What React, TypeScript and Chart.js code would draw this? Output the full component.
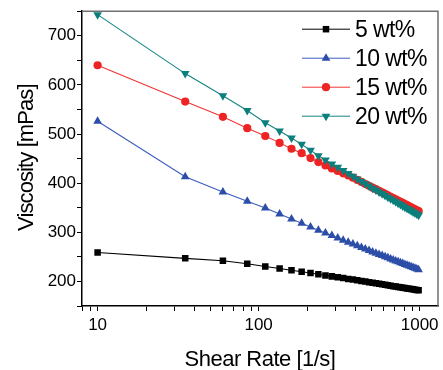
import React, { useEffect, useRef } from 'react';
import { Chart, registerables } from 'chart.js';

Chart.register(...registerables);

const shearRate = [10, 35, 60, 85, 110, 135, 160, 185, 210, 235, 260, 285, 310, 335, 360, 385, 410, 435, 460, 485, 510, 535, 560, 585, 610, 635, 660, 685, 710, 735, 760, 785, 810, 835, 860, 885, 910, 935, 960, 985];

const visc5 = [259, 247, 242, 236, 230.5, 226.3, 222.7, 219.7, 217, 214.5, 212.3, 210.3, 208.4, 206.8, 205.2, 203.7, 202.2, 200.9, 199.7, 198.5, 197.3, 196.2, 195.2, 194.2, 193.2, 192.3, 191.4, 190.4, 189.6, 188.8, 188, 187.3, 186.6, 185.8, 185.2, 184.5, 183.9, 183.2, 182.6, 182];

const visc10 = [526, 413, 382, 363, 349.5, 337.2, 327, 318.5, 311, 304.4, 298.5, 293.3, 288.4, 284, 279.9, 276.1, 272.5, 269.2, 265.9, 262.9, 260.1, 257.5, 254.9, 252.6, 250.3, 248, 245.8, 243.7, 241.8, 239.9, 238, 236.3, 234.6, 232.8, 231.4, 229.8, 228.2, 226.7, 225.3, 224];

const visc15 = [640, 566, 535, 512, 496, 482, 470, 461, 451, 443, 436, 430, 425, 420, 415.8, 411.1, 406.6, 402.5, 398.3, 394.6, 390.9, 387.7, 384.4, 381.2, 378.2, 375.2, 372.4, 369.6, 367.1, 364.7, 362.1, 359.7, 357.5, 355.2, 353, 350.9, 348.8, 346.8, 344.9, 343];

const visc20 = [743, 623, 578, 548, 523, 506, 492, 479, 467, 456, 447, 439, 432.5, 425.8, 419.7, 414, 408.6, 403.6, 398.7, 394.2, 389.9, 386, 382.2, 378.4, 375, 371.4, 368.2, 365.1, 362.2, 359.3, 356.4, 353.7, 351.2, 348.5, 346.2, 343.8, 341.5, 339.1, 337, 334.9];

const seriesLabels = ['5 wt%', '10 wt%', '15 wt%', '20 wt%'];
const xTickValues = [8, 9, 10, 20, 30, 40, 50, 60, 70, 80, 90, 100, 200, 300, 400, 500, 600, 700, 800, 900, 1000];
const xTickLabels = [10, 100, 1000];
const yTickValues = [150, 200, 250, 300, 350, 400, 450, 500, 550, 600, 650, 700, 750];
const yTickLabels = [200, 300, 400, 500, 600, 700];

const FONT = '"Liberation Sans", Arial, Helvetica, sans-serif';
const markerColors = ['#000000', '#2d4ea8', '#ee2424', '#0a7f7b'];
const lineColors = ['#000000', '#3a5cc2', '#f03434', '#128682'];
const pointStyles = ['rect', 'triangle', 'circle', 'triangle'];
const rotations = [0, 0, 0, 180];
const radii = [4.6, 5.0, 4.1, 5.0];

function drawMarker(ctx: CanvasRenderingContext2D, i: number, x: number, y: number) {
  const r = radii[i];
  ctx.fillStyle = markerColors[i];
  ctx.beginPath();
  if (pointStyles[i] === 'rect') {
    const s = r * Math.SQRT1_2;
    ctx.rect(x - s, y - s, 2 * s, 2 * s);
  } else if (pointStyles[i] === 'circle') {
    ctx.arc(x, y, r, 0, Math.PI * 2);
  } else {
    const dir = rotations[i] === 180 ? -1 : 1;
    ctx.moveTo(x, y - dir * r);
    ctx.lineTo(x + r * 0.866, y + dir * r * 0.5);
    ctx.lineTo(x - r * 0.866, y + dir * r * 0.5);
    ctx.closePath();
  }
  ctx.fill();
}

const overlay = {
  id: 'overlay',
  afterDraw(chart: any) {
    const { ctx, chartArea: a } = chart;
    ctx.save();
    ctx.strokeStyle = '#707070';
    ctx.lineWidth = 1.5;
    ctx.beginPath();
    ctx.moveTo(a.left, a.top);
    ctx.lineTo(a.right, a.top);
    ctx.lineTo(a.right, a.bottom);
    ctx.stroke();

    ctx.fillStyle = '#000';
    ctx.font = `22px ${FONT}`;
    (ctx as any).letterSpacing = '-0.5px';
    ctx.textAlign = 'center';
    ctx.textBaseline = 'alphabetic';
    ctx.fillText('Shear Rate [1/s]', (a.left + a.right) / 2, 365.5);
    ctx.save();
    (ctx as any).letterSpacing = '-0.9px';
    ctx.translate(33, (a.top + a.bottom) / 2 - 1);
    ctx.rotate(-Math.PI / 2);
    ctx.fillText('Viscosity [mPas]', 0, 0);
    ctx.restore();

    ctx.font = `23px ${FONT}`;
    (ctx as any).letterSpacing = '-0.6px';
    ctx.textAlign = 'left';
    ctx.textBaseline = 'middle';
    for (let i = 0; i < seriesLabels.length; i++) {
      const y = a.top + 18 + i * 29;
      const x0 = a.right - 136;
      const x1 = a.right - 88;
      ctx.strokeStyle = lineColors[i];
      ctx.lineWidth = 1;
      ctx.beginPath();
      ctx.moveTo(x0, y);
      ctx.lineTo(x1, y);
      ctx.stroke();
      drawMarker(ctx, i, (x0 + x1) / 2, y);
      ctx.fillStyle = '#000';
      ctx.fillText(seriesLabels[i], a.right - 83, y + 1);
    }
    ctx.restore();
  },
};

export default function App() {
  const canvasRef = useRef<HTMLCanvasElement | null>(null);

  useEffect(() => {
    document.body.style.margin = '0';
    const canvas = canvasRef.current;
    if (!canvas) return;
    const series = [visc5, visc10, visc15, visc20];
    const datasets = series.map((vals, i) => ({
      label: seriesLabels[i],
      data: shearRate.map((x, k) => ({ x, y: vals[k] })),
      borderColor: lineColors[i],
      borderWidth: 1.1,
      backgroundColor: markerColors[i],
      pointBackgroundColor: markerColors[i],
      pointBorderWidth: 0,
      pointStyle: pointStyles[i],
      pointRotation: rotations[i],
      pointRadius: radii[i],
      tension: 0,
      order: 3 - i,
    }));

    const chart = new Chart(canvas, {
      type: 'line',
      data: { datasets },
      options: {
        animation: false,
        responsive: false,
        devicePixelRatio: 1,
        layout: { padding: { top: 11, right: 4, left: 0, bottom: 0 } },
        plugins: { legend: { display: false }, tooltip: { enabled: false } },
        scales: {
          x: {
            type: 'logarithmic',
            min: 8,
            max: 1300,
            afterBuildTicks: (s: any) => {
              s.ticks = xTickValues.map((v) => ({ value: v }));
            },
            afterFit: (s: any) => {
              s.height = 64;
            },
            ticks: {
              autoSkip: false,
              maxRotation: 0,
              minRotation: 0,
              padding: 4,
              color: '#000',
              font: { size: 17, family: FONT },
              callback: (v: any) => (xTickLabels.includes(Number(v)) ? String(v) : ''),
            },
            grid: { drawOnChartArea: false, drawTicks: true, tickLength: 5, color: '#000', lineWidth: 1 },
            border: { display: true, color: '#000', width: 1.5 },
          },
          y: {
            type: 'linear',
            min: 150,
            max: 750,
            afterBuildTicks: (s: any) => {
              s.ticks = yTickValues.map((v) => ({ value: v }));
            },
            afterFit: (s: any) => {
              s.width = 82;
            },
            ticks: {
              autoSkip: false,
              padding: 1,
              color: '#000',
              font: { size: 17, family: FONT },
              callback: (v: any) => (yTickLabels.includes(Number(v)) ? String(v) : ''),
            },
            grid: { drawOnChartArea: false, drawTicks: true, tickLength: 5, color: '#000', lineWidth: 1 },
            border: { display: true, color: '#000', width: 1.5 },
          },
        },
      },
      plugins: [overlay],
    });
    return () => chart.destroy();
  }, []);

  return (
    <div style={{ width: 443, height: 370, background: '#fff' }}>
      <canvas ref={canvasRef} width={443} height={370} style={{ display: 'block' }} />
    </div>
  );
}
